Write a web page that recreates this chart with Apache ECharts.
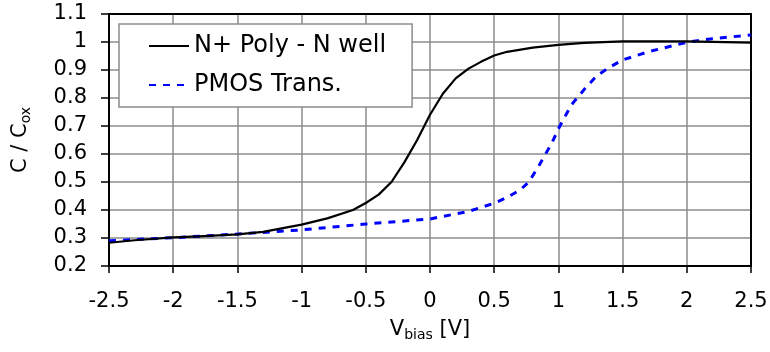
<!DOCTYPE html>
<html>
<head>
<meta charset="utf-8">
<script src="https://cdn.jsdelivr.net/npm/echarts@6/dist/echarts.min.js"></script>
<style>html,body{margin:0;padding:0;background:#fff}#c{width:770px;height:352px}</style>
</head>
<body>
<div id="c"></div>
<script>
var seriesNames = ['N+ Poly - N well', 'PMOS Trans.'];
var polyX = [-2.5,-2.3,-2.0,-1.8,-1.5,-1.3,-1.0,-0.8,-0.6,-0.5,-0.4,-0.3,-0.2,-0.1,0.0,0.1,0.2,0.3,0.4,0.5,0.6,0.8,1.0,1.2,1.5,2.0,2.5];
var polyY = [0.283,0.292,0.302,0.306,0.313,0.322,0.348,0.370,0.400,0.425,0.455,0.500,0.570,0.650,0.740,0.815,0.870,0.905,0.930,0.952,0.965,0.980,0.990,0.997,1.002,1.002,0.998];
var pmosX = [-2.5,-2.0,-1.5,-1.0,-0.5,0.0,0.3,0.5,0.6,0.7,0.77,0.85,0.9,0.95,1.0,1.1,1.2,1.3,1.4,1.5,1.7,2.0,2.2,2.5];
var pmosY = [0.290,0.301,0.314,0.329,0.350,0.368,0.395,0.424,0.445,0.471,0.500,0.560,0.600,0.640,0.690,0.775,0.830,0.880,0.910,0.936,0.965,0.999,1.012,1.025];
var xTicks = ['-2.5','-2','-1.5','-1','-0.5','0','0.5','1','1.5','2','2.5'];
var yTicks = ['0.2','0.3','0.4','0.5','0.6','0.7','0.8','0.9','1','1.1'];

function pairs(xs, ys){ return xs.map(function(x,i){ return [x, ys[i]]; }); }
function tickText(arr, v, start, step){
  var s = arr[Math.round((v - start) / step)];
  return (s != null) ? s : String(Math.round(v * 10) / 10);
}
var FONT = 'DejaVu Sans';
var chart = echarts.init(document.getElementById('c'), null, {renderer:'canvas'});
chart.setOption({
  backgroundColor: '#fff',
  animation: false,
  textStyle: {fontFamily: FONT, color: '#000'},
  grid: {left: 109, right: 19, top: 14, bottom: 86, containLabel: false, outerBoundsMode: 'none'},
  legend: {
    orient: 'vertical', left: 119, top: 24,
    padding: [7, 26, 7, 29],
    itemGap: 9, itemWidth: 40, itemHeight: 14,
    borderColor: '#8c8c8c', borderWidth: 1.5, backgroundColor: '#fff',
    itemStyle: {opacity: 0},
    textStyle: {fontFamily: FONT, fontSize: 24, color: '#000', lineHeight: 30},
    data: seriesNames
  },
  xAxis: [{
    type: 'value', min: -2.5, max: 2.5, interval: 0.5, position: 'bottom',
    axisLine: {show: true, onZero: false, lineStyle: {color: '#000', width: 2}},
    axisTick: {show: true, length: 7, lineStyle: {color: '#000', width: 1.5}},
    splitLine: {show: true, lineStyle: {color: '#8c8c8c', width: 1.5}},
    axisLabel: {fontFamily: FONT, fontSize: 21, color: '#000', margin: 25,
      formatter: function(v){ return tickText(xTicks, v, -2.5, 0.5); }},
    name: 'V{sub|bias} [V]', nameLocation: 'middle', nameGap: 52,
    nameTextStyle: {fontFamily: FONT, fontSize: 21, color: '#000',
      rich: {sub: {fontFamily: FONT, fontSize: 14, color: '#000', padding: [10, 0, 0, 0]}}}
  }, {
    type: 'value', min: -2.5, max: 2.5, interval: 0.5, position: 'top',
    axisLine: {show: true, onZero: false, lineStyle: {color: '#000', width: 2}},
    axisTick: {show: false}, splitLine: {show: false}, axisLabel: {show: false}
  }],
  yAxis: [{
    type: 'value', min: 0.2, max: 1.1, interval: 0.1, position: 'left',
    axisLine: {show: true, onZero: false, lineStyle: {color: '#000', width: 2}},
    axisTick: {show: true, length: 8, lineStyle: {color: '#000', width: 1.5}},
    splitLine: {show: true, lineStyle: {color: '#8c8c8c', width: 1.5}},
    axisLabel: {fontFamily: FONT, fontSize: 21, color: '#000', margin: 22,
      formatter: function(v){ return tickText(yTicks, v, 0.2, 0.1); }},
    name: 'C / C{sub|ox}', nameLocation: 'middle', nameGap: 76, nameRotate: 90,
    nameTextStyle: {fontFamily: FONT, fontSize: 21, color: '#000',
      rich: {sub: {fontFamily: FONT, fontSize: 14, color: '#000', padding: [10, 0, 0, 0]}}}
  }, {
    type: 'value', min: 0.2, max: 1.1, interval: 0.1, position: 'right',
    axisLine: {show: true, onZero: false, lineStyle: {color: '#000', width: 2}},
    axisTick: {show: false}, splitLine: {show: false}, axisLabel: {show: false}
  }],
  series: [
    {name: seriesNames[0], type: 'line', xAxisIndex: 0, yAxisIndex: 0, data: pairs(polyX, polyY), showSymbol: false, symbol: 'none',
     lineStyle: {color: '#000', width: 2.2, type: 'solid'}, itemStyle: {color: '#000'}, z: 3},
    {name: seriesNames[1], type: 'line', xAxisIndex: 0, yAxisIndex: 0, data: pairs(pmosX, pmosY), showSymbol: false, symbol: 'none',
     lineStyle: {color: '#0000ff', width: 3, type: [7, 7]}, itemStyle: {color: '#0000ff'}, z: 2}
  ]
});
</script>
</body>
</html>
